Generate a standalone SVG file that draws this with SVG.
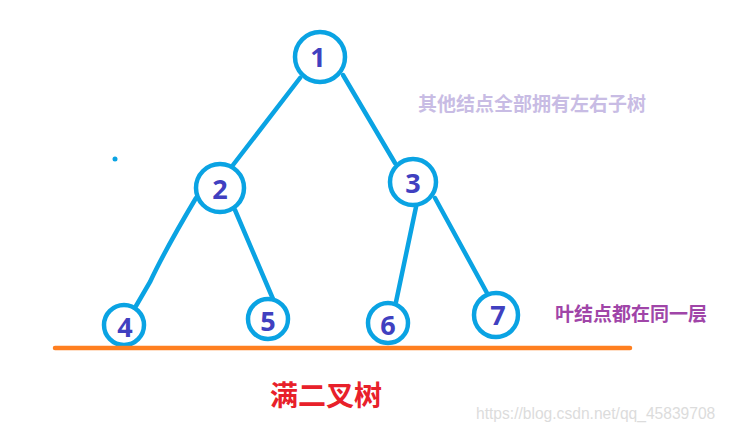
<svg xmlns="http://www.w3.org/2000/svg" width="729" height="432" viewBox="0 0 729 432">
<style>
.n{fill:#fff;stroke:#0aa3e3;stroke-width:4.5}
.t{font-family:"Open Sans","Noto Sans",sans-serif;font-weight:bold;font-size:27px;fill:#4040c0;text-anchor:middle}
.e{stroke:#0aa3e3;stroke-width:4.5;fill:none;stroke-linecap:round}
.c{font-family:"Noto Sans CJK SC",sans-serif;font-weight:bold}
</style>
<rect width="729" height="432" fill="#fff"/>
<g id="connectors">
<path class="e" d="M300,78 L233,165"/>
<path class="e" d="M343,75 L395,163"/>
<path class="e" d="M196,198 Q165,250 150,282 L136,306"/>
<path class="e" d="M235,210 L273,299"/>
<path class="e" d="M416,207 L396,302"/>
<path class="e" d="M435,198 L487,293"/>
</g>
<g id="n1"><circle class="n" cx="320" cy="57" r="25"/><text class="t" x="318" y="67">1</text></g>
<g id="n2"><circle class="n" cx="220" cy="188" r="24"/><text class="t" x="220" y="199">2</text></g>
<g id="n3"><circle class="n" cx="413" cy="182" r="23"/><text class="t" x="413" y="193">3</text></g>
<g id="n4"><circle class="n" cx="124" cy="325" r="20"/><text class="t" x="125" y="337">4</text></g>
<g id="n5"><circle class="n" cx="268" cy="319" r="20"/><text class="t" x="268" y="331">5</text></g>
<g id="n6"><circle class="n" cx="388" cy="323" r="20"/><text class="t" x="388" y="335">6</text></g>
<g id="n7"><circle class="n" cx="496" cy="315" r="22"/><text class="t" x="498" y="325">7</text></g>
<circle cx="115" cy="159" r="2.5" fill="#0aa3e3"/>
<line x1="55" y1="348" x2="630" y2="348" stroke="#ff7f20" stroke-width="4.5" stroke-linecap="round"/>
<text class="c" x="418" y="111" font-size="19" fill="#c8bce4">其他结点全部拥有左右子树</text>
<text class="c" x="555" y="321" font-size="19" fill="#a045a8">叶结点都在同一层</text>
<text class="c" x="270" y="406" font-size="28" fill="#e8202a">满二叉树</text>
<text x="476" y="419" font-family="Liberation Sans,sans-serif" font-size="15.6" fill="#dcdcdc">https://blog.csdn.net/qq_45839708</text>
</svg>
